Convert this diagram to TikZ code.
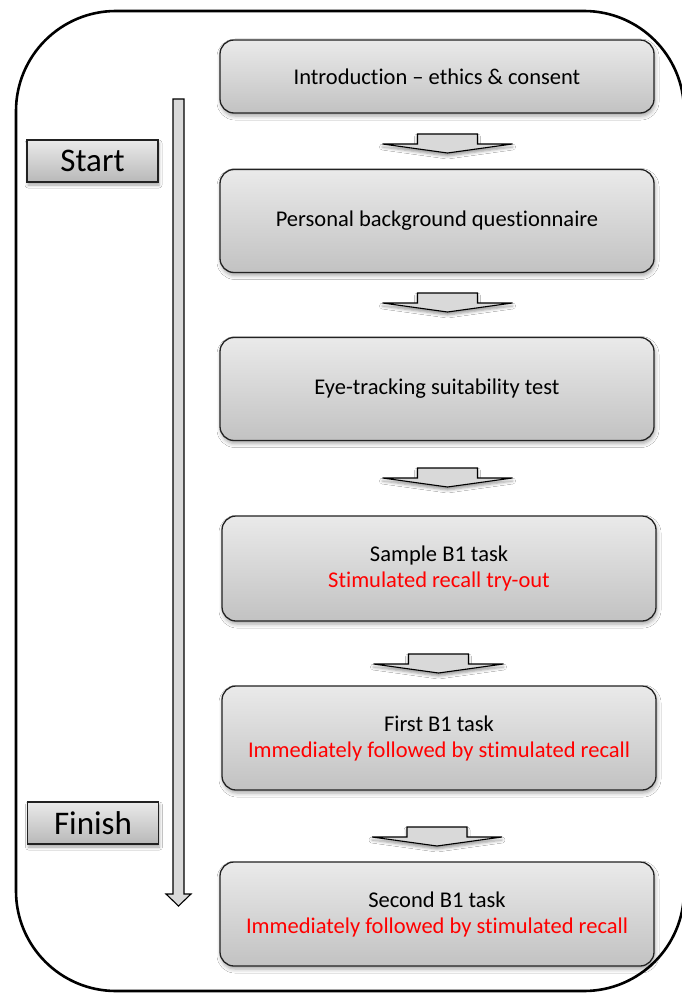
\documentclass[tikz,border=0pt]{standalone}
\usepackage{fontspec}
\setmainfont{Carlito}[Ligatures={NoCommon}]
\usetikzlibrary{shadows.blur}
\definecolor{boxtop}{HTML}{EAEAEA}
\definecolor{boxbot}{HTML}{C2C2C2}
\definecolor{arrfill}{HTML}{D9D9D9}
\definecolor{edge}{HTML}{222222}
\definecolor{redtxt}{HTML}{FF0000}
\newcommand\flowarrow[2]{%
  \draw[blockarrow] (#1-30,#2) -- (#1+30,#2) -- (#1+30,#2+10) -- (#1+65,#2+10)
    -- (#1,#2+19) -- (#1-65,#2+10) -- (#1-30,#2+10) -- cycle;}
\begin{document}
\begin{tikzpicture}[x=1pt,y=-1pt,
  stepbox/.style={draw=edge, line width=1.3pt, rounded corners=14pt,
    top color=boxtop, bottom color=boxbot,
    blur shadow={shadow xshift=1pt, shadow yshift=-3pt, shadow blur radius=4pt, shadow opacity=35},
    minimum width=434pt, align=center, inner sep=0pt,
    font=\fontsize{22.5}{26}\selectfont},
  markbox/.style={draw=edge, line width=1.1pt,
    top color=boxtop, bottom color=boxbot!95!black,
    blur shadow={shadow xshift=1pt, shadow yshift=-3pt, shadow blur radius=3pt, shadow opacity=35},
    minimum width=131pt, minimum height=42pt, inner sep=0pt,
    font=\fontsize{33}{36}\selectfont},
  blockarrow/.style={draw=black, line width=1.1pt, line join=miter, fill=arrfill,
    blur shadow={shadow xshift=0pt, shadow yshift=-3pt, shadow blur radius=3pt, shadow opacity=40}}]
\useasboundingbox (0,0) rectangle (681,995);
\fill[white] (0,0) rectangle (681,995);
% outer frame
\draw[line width=2.6pt, rounded corners=100pt] (16,11) rectangle (684,991);
% timeline arrow
\draw[draw=black, line width=1.1pt, fill=arrfill, line join=miter]
  (173,99) -- (184,99) -- (184,894) -- (191,894) -- (178.5,906) -- (166,894) -- (173,894) -- cycle;
% start / finish
\node[markbox] (start) at (92.5,161) {Start};
\node[markbox] (finish) at (93,823) {Finish};
% steps
\node[stepbox, minimum height=73pt] (b1) at (437,76.5) {Introduction -- ethics \& consent};
\node[stepbox, minimum height=103pt] (b2) at (437,221) {Personal background questionnaire};
\node[stepbox, minimum height=103pt] (b3) at (437,389) {Eye-tracking suitability test};
\node[stepbox, minimum height=105pt] (b4) at (439,568.5) {Sample B1 task\\\textcolor{redtxt}{Stimulated recall try-out}};
\node[stepbox, minimum height=104pt] (b5) at (439,738) {First B1 task\\\textcolor{redtxt}{Immediately followed by stimulated recall}};
\node[stepbox, minimum height=104pt] (b6) at (437,914) {Second B1 task\\\textcolor{redtxt}{Immediately followed by stimulated recall}};
% block arrows
\flowarrow{447.5}{134}
\flowarrow{447.5}{293}
\flowarrow{447.5}{468}
\flowarrow{438.5}{654}
\flowarrow{437}{827}
\end{tikzpicture}
\end{document}
